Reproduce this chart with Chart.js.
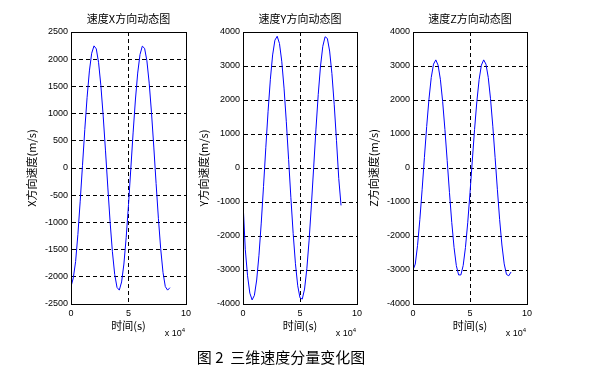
<!DOCTYPE html>
<html><head><meta charset="utf-8">
<script src="https://cdn.jsdelivr.net/npm/chart.js@4"></script>
<style>
html,body{margin:0;padding:0;background:#fff;}
#wrap{position:relative;width:607px;height:376px;overflow:hidden;background:#fff;}
canvas{position:absolute;left:0;top:0;}
.exp{position:absolute;font:9px "Liberation Sans",Arial,sans-serif;color:#000;line-height:9px;white-space:nowrap;}
.exp sup{font-size:6px;line-height:6px;position:relative;top:-4px;vertical-align:baseline;}
#cap{position:absolute;left:0;width:562px;top:349px;text-align:center;font:15px "Noto Sans CJK SC",sans-serif;line-height:16px;color:#000;white-space:pre;}
</style></head>
<body><div id="wrap">
<canvas id="c1" width="607" height="376"></canvas>
<canvas id="c2" width="607" height="376"></canvas>
<canvas id="c3" width="607" height="376"></canvas>
<div class="exp" style="right:422px;top:329px">x 10<sup>4</sup></div>
<div class="exp" style="right:251px;top:329px">x 10<sup>4</sup></div>
<div class="exp" style="right:81px;top:329px">x 10<sup>4</sup></div>
<div id="cap">图 2  三维速度分量变化图</div>
</div>
<script>
// time in seconds
const time = [0,2000,4000,6000,8000,10000,12000,14000,16000,18000,20000,22000,24000,26000,28000,30000,32000,34000,36000,38000,40000,42000,44000,46000,48000,50000,52000,54000,56000,58000,60000,62000,64000,66000,68000,70000,72000,74000,76000,78000,80000,82000,84000,86000];
// velocity components (m/s)
const velX = [-2180,-2020,-1720,-1220,-610,50,710,1300,1785,2110,2245,2190,1935,1510,955,315,-350,-990,-1540,-1955,-2195,-2245,-2095,-1765,-1275,-675,-15,645,1250,1745,2085,2240,2200,1970,1560,1015,385,-285,-925,-1485,-1920,-2180,-2245,-2200];
const velY = [-1000,-2390,-3170,-3680,-3880,-3745,-3295,-2565,-1620,-540,595,1670,2610,3325,3760,3875,3660,3140,2350,1360,255,-875,-1925,-2815,-3465,-3820,-3855,-3560,-2965,-2120,-1090,25,1145,2165,3000,3580,3860,3810,3440,2775,1875,815,-310,-1100];
const velZ = [-3000,-2825,-2275,-1520,-640,305,1220,2025,2660,3055,3180,3025,2610,1960,1135,215,-725,-1600,-2335,-2870,-3145,-3145,-2870,-2340,-1610,-730,205,1130,1950,2600,3025,3180,3055,2665,2035,1230,315,-625,-1515,-2265,-2820,-3130,-3170,-3060];
const titles = ['速度X方向动态图','速度Y方向动态图','速度Z方向动态图'];
const yTitles = ['X方向速度(m/s)','Y方向速度(m/s)','Z方向速度(m/s)'];
const xTitle = '时间(s)';
const xTicks = [0,50000,100000];
const yRangeX = [-2500,2500,500];
const yRangeYZ = [-4000,4000,1000];

const CJK = '"Noto Sans CJK SC", sans-serif';
const LAT = '"Liberation Sans", Arial, sans-serif';

const framePlugin = {
  id:'frame',
  afterDatasetsDraw(chart){
    const a = chart.chartArea, ctx = chart.ctx;
    ctx.save();
    ctx.strokeStyle = '#000'; ctx.lineWidth = 1; ctx.setLineDash([]);
    const l = Math.floor(a.left), t = Math.floor(a.top), r = Math.floor(a.right), b = Math.floor(a.bottom);
    ctx.strokeRect(l+0.5, t+0.5, r-l, b-t);
    ctx.restore();
  }
};

function makeChart(id, title, yTitle, values, yr, padL, padR){
  const pts = time.map((t,i)=>({x:t, y:values[i]}));
  return new Chart(document.getElementById(id), {
    type:'line',
    data:{datasets:[{data:pts, borderColor:'#0000ff', borderWidth:1, pointRadius:0, tension:0, fill:false}]},
    options:{
      responsive:false, animation:false, events:[],
      layout:{padding:{left:padL, right:padR, top:0, bottom:30}},
      plugins:{
        legend:{display:false}, tooltip:{enabled:false},
        title:{display:true, text:title, fullSize:false, color:'#000',
               font:{family:CJK, size:11, weight:'normal'}, padding:{top:12, bottom:6.8}}
      },
      scales:{
        x:{type:'linear', min:xTicks[0], max:xTicks[xTicks.length-1],
           afterBuildTicks:s=>{s.ticks = xTicks.map(v=>({value:v}));},
           ticks:{callback:v=>String(v/1e4), font:{family:LAT, size:9}, color:'#000', padding:4, maxRotation:0, autoSkip:false},
           grid:{color:'#000', lineWidth:1, drawTicks:false},
           border:{display:true, color:'#000', dash:[4,3]},
           title:{display:true, text:xTitle, color:'#000', font:{family:CJK, size:11, weight:'normal'}, padding:{top:0, bottom:13.4}},
           afterFit:s=>{s.height = 42;}},
        y:{type:'linear', min:yr[0], max:yr[1],
           ticks:{stepSize:yr[2], callback:v=>String(v), font:{family:LAT, size:9}, color:'#000', padding:3},
           grid:{color:'#000', lineWidth:1, drawTicks:false},
           border:{display:true, color:'#000', dash:[4,3]},
           title:{display:true, text:yTitle, color:'#000', font:{family:CJK, size:11, weight:'normal'}, padding:{top:5, bottom:0}},
           afterFit:s=>{s.width = 51;}}
      }
    },
    plugins:[framePlugin]
  });
}
makeChart('c1', titles[0], yTitles[0], velX, yRangeX, 20, 421);
makeChart('c2', titles[1], yTitles[1], velY, yRangeYZ, 192, 250);
makeChart('c3', titles[2], yTitles[2], velZ, yRangeYZ, 362, 80);
</script>
</body></html>
